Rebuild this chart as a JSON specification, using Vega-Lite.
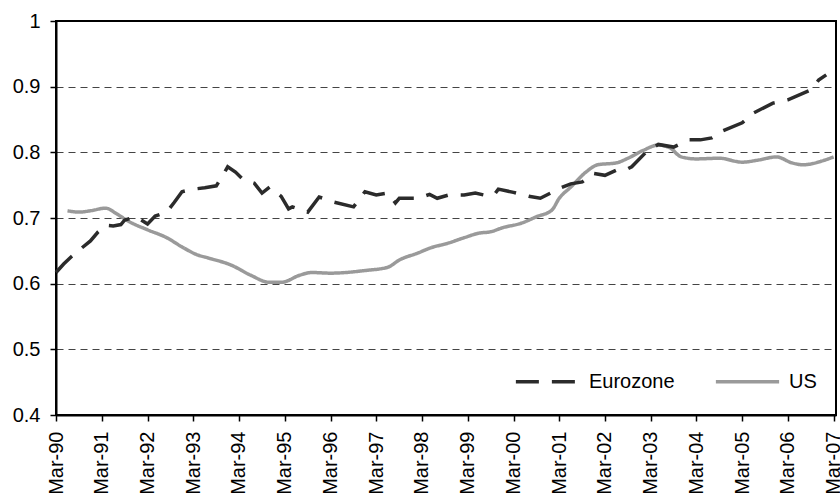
{
  "$schema": "https://vega.github.io/schema/vega-lite/v6.json",
  "width": 780,
  "height": 394,
  "autosize": "none",
  "padding": {"left": 56, "top": 21, "right": 4, "bottom": 86},
  "background": "white",
  "config": {
    "font": "Liberation Sans",
    "view": {"stroke": "black", "strokeWidth": 2},
    "axis": {"labelFont": "Liberation Sans", "labelColor": "black", "labelFontSize": 20, "domainColor": "black", "domainWidth": 2, "tickColor": "black", "tickWidth": 1.5, "tickSize": 6}
  },
  "data": {"values": [
    {"date": "1990/03/01", "series": "Eurozone", "value": 0.617},
    {"date": "1990/05/01", "series": "Eurozone", "value": 0.630},
    {"date": "1990/07/01", "series": "Eurozone", "value": 0.641},
    {"date": "1990/09/01", "series": "Eurozone", "value": 0.651},
    {"date": "1990/12/01", "series": "Eurozone", "value": 0.665},
    {"date": "1991/02/01", "series": "Eurozone", "value": 0.679},
    {"date": "1991/04/01", "series": "Eurozone", "value": 0.689},
    {"date": "1991/06/01", "series": "Eurozone", "value": 0.688},
    {"date": "1991/08/01", "series": "Eurozone", "value": 0.690},
    {"date": "1991/09/01", "series": "Eurozone", "value": 0.697},
    {"date": "1991/12/01", "series": "Eurozone", "value": 0.702},
    {"date": "1992/03/01", "series": "Eurozone", "value": 0.691},
    {"date": "1992/05/01", "series": "Eurozone", "value": 0.703},
    {"date": "1992/08/01", "series": "Eurozone", "value": 0.709},
    {"date": "1992/10/01", "series": "Eurozone", "value": 0.724},
    {"date": "1992/12/01", "series": "Eurozone", "value": 0.740},
    {"date": "1993/03/01", "series": "Eurozone", "value": 0.744},
    {"date": "1993/06/01", "series": "Eurozone", "value": 0.746},
    {"date": "1993/09/01", "series": "Eurozone", "value": 0.749},
    {"date": "1993/11/01", "series": "Eurozone", "value": 0.768},
    {"date": "1993/12/01", "series": "Eurozone", "value": 0.778},
    {"date": "1994/02/01", "series": "Eurozone", "value": 0.770},
    {"date": "1994/04/01", "series": "Eurozone", "value": 0.759},
    {"date": "1994/07/01", "series": "Eurozone", "value": 0.753},
    {"date": "1994/09/01", "series": "Eurozone", "value": 0.738},
    {"date": "1994/11/01", "series": "Eurozone", "value": 0.747},
    {"date": "1995/02/01", "series": "Eurozone", "value": 0.733},
    {"date": "1995/04/01", "series": "Eurozone", "value": 0.714},
    {"date": "1995/05/01", "series": "Eurozone", "value": 0.717},
    {"date": "1995/09/01", "series": "Eurozone", "value": 0.709},
    {"date": "1995/12/01", "series": "Eurozone", "value": 0.732},
    {"date": "1996/04/01", "series": "Eurozone", "value": 0.724},
    {"date": "1996/09/01", "series": "Eurozone", "value": 0.717},
    {"date": "1996/12/01", "series": "Eurozone", "value": 0.740},
    {"date": "1997/03/01", "series": "Eurozone", "value": 0.735},
    {"date": "1997/06/01", "series": "Eurozone", "value": 0.738},
    {"date": "1997/08/01", "series": "Eurozone", "value": 0.723},
    {"date": "1997/09/01", "series": "Eurozone", "value": 0.730},
    {"date": "1998/02/01", "series": "Eurozone", "value": 0.730},
    {"date": "1998/05/01", "series": "Eurozone", "value": 0.736},
    {"date": "1998/07/01", "series": "Eurozone", "value": 0.730},
    {"date": "1998/10/01", "series": "Eurozone", "value": 0.735},
    {"date": "1999/02/01", "series": "Eurozone", "value": 0.735},
    {"date": "1999/05/01", "series": "Eurozone", "value": 0.738},
    {"date": "1999/08/01", "series": "Eurozone", "value": 0.734},
    {"date": "1999/10/01", "series": "Eurozone", "value": 0.736},
    {"date": "1999/11/01", "series": "Eurozone", "value": 0.744},
    {"date": "2000/03/01", "series": "Eurozone", "value": 0.739},
    {"date": "2000/07/01", "series": "Eurozone", "value": 0.733},
    {"date": "2000/10/01", "series": "Eurozone", "value": 0.730},
    {"date": "2001/01/01", "series": "Eurozone", "value": 0.739},
    {"date": "2001/03/01", "series": "Eurozone", "value": 0.745},
    {"date": "2001/06/01", "series": "Eurozone", "value": 0.752},
    {"date": "2001/09/01", "series": "Eurozone", "value": 0.755},
    {"date": "2001/12/01", "series": "Eurozone", "value": 0.768},
    {"date": "2002/03/01", "series": "Eurozone", "value": 0.765},
    {"date": "2002/06/01", "series": "Eurozone", "value": 0.773},
    {"date": "2002/08/01", "series": "Eurozone", "value": 0.772},
    {"date": "2002/10/01", "series": "Eurozone", "value": 0.778},
    {"date": "2003/02/01", "series": "Eurozone", "value": 0.802},
    {"date": "2003/05/01", "series": "Eurozone", "value": 0.812},
    {"date": "2003/09/01", "series": "Eurozone", "value": 0.808},
    {"date": "2004/01/01", "series": "Eurozone", "value": 0.819},
    {"date": "2004/04/01", "series": "Eurozone", "value": 0.819},
    {"date": "2004/07/01", "series": "Eurozone", "value": 0.822},
    {"date": "2004/10/01", "series": "Eurozone", "value": 0.833},
    {"date": "2005/03/01", "series": "Eurozone", "value": 0.845},
    {"date": "2005/06/01", "series": "Eurozone", "value": 0.860},
    {"date": "2005/11/01", "series": "Eurozone", "value": 0.875},
    {"date": "2006/03/01", "series": "Eurozone", "value": 0.880},
    {"date": "2006/09/01", "series": "Eurozone", "value": 0.895},
    {"date": "2006/11/01", "series": "Eurozone", "value": 0.910},
    {"date": "2007/01/01", "series": "Eurozone", "value": 0.918},
    {"date": "1990/06/01", "series": "US", "value": 0.711},
    {"date": "1990/09/01", "series": "US", "value": 0.709},
    {"date": "1990/12/01", "series": "US", "value": 0.711},
    {"date": "1991/04/01", "series": "US", "value": 0.715},
    {"date": "1991/07/01", "series": "US", "value": 0.706},
    {"date": "1991/10/01", "series": "US", "value": 0.695},
    {"date": "1992/03/01", "series": "US", "value": 0.682},
    {"date": "1992/08/01", "series": "US", "value": 0.670},
    {"date": "1992/12/01", "series": "US", "value": 0.656},
    {"date": "1993/04/01", "series": "US", "value": 0.644},
    {"date": "1993/07/01", "series": "US", "value": 0.639},
    {"date": "1994/01/01", "series": "US", "value": 0.628},
    {"date": "1994/06/01", "series": "US", "value": 0.613},
    {"date": "1994/11/01", "series": "US", "value": 0.602},
    {"date": "1995/02/01", "series": "US", "value": 0.602},
    {"date": "1995/07/01", "series": "US", "value": 0.613},
    {"date": "1995/10/01", "series": "US", "value": 0.617},
    {"date": "1996/03/01", "series": "US", "value": 0.616},
    {"date": "1996/12/01", "series": "US", "value": 0.620},
    {"date": "1997/06/01", "series": "US", "value": 0.625},
    {"date": "1997/09/01", "series": "US", "value": 0.636},
    {"date": "1998/02/01", "series": "US", "value": 0.647},
    {"date": "1998/05/01", "series": "US", "value": 0.654},
    {"date": "1998/10/01", "series": "US", "value": 0.662},
    {"date": "1999/02/01", "series": "US", "value": 0.670},
    {"date": "1999/06/01", "series": "US", "value": 0.677},
    {"date": "1999/09/01", "series": "US", "value": 0.679},
    {"date": "1999/12/01", "series": "US", "value": 0.685},
    {"date": "2000/05/01", "series": "US", "value": 0.692},
    {"date": "2000/09/01", "series": "US", "value": 0.702},
    {"date": "2001/01/01", "series": "US", "value": 0.712},
    {"date": "2001/03/01", "series": "US", "value": 0.730},
    {"date": "2001/06/01", "series": "US", "value": 0.747},
    {"date": "2001/10/01", "series": "US", "value": 0.770},
    {"date": "2002/01/01", "series": "US", "value": 0.781},
    {"date": "2002/06/01", "series": "US", "value": 0.784},
    {"date": "2002/09/01", "series": "US", "value": 0.791},
    {"date": "2003/01/01", "series": "US", "value": 0.803},
    {"date": "2003/05/01", "series": "US", "value": 0.811},
    {"date": "2003/08/01", "series": "US", "value": 0.807},
    {"date": "2003/11/01", "series": "US", "value": 0.793},
    {"date": "2004/03/01", "series": "US", "value": 0.790},
    {"date": "2004/09/01", "series": "US", "value": 0.791},
    {"date": "2005/03/01", "series": "US", "value": 0.785},
    {"date": "2005/07/01", "series": "US", "value": 0.788},
    {"date": "2005/12/01", "series": "US", "value": 0.793},
    {"date": "2006/04/01", "series": "US", "value": 0.784},
    {"date": "2006/07/01", "series": "US", "value": 0.781},
    {"date": "2006/12/01", "series": "US", "value": 0.787},
    {"date": "2007/03/01", "series": "US", "value": 0.793}
  ]},
  "encoding": {
    "x": {
      "field": "date", "type": "temporal", "title": null,
      "scale": {"domain": [{"year": 1990, "month": 3, "date": 1}, {"year": 2007, "month": 3, "date": 20}]},
      "axis": {
        "values": [
          {"year": 1990, "month": 3, "date": 1}, {"year": 1991, "month": 3, "date": 1}, {"year": 1992, "month": 3, "date": 1},
          {"year": 1993, "month": 3, "date": 1}, {"year": 1994, "month": 3, "date": 1}, {"year": 1995, "month": 3, "date": 1},
          {"year": 1996, "month": 3, "date": 1}, {"year": 1997, "month": 3, "date": 1}, {"year": 1998, "month": 3, "date": 1},
          {"year": 1999, "month": 3, "date": 1}, {"year": 2000, "month": 3, "date": 1}, {"year": 2001, "month": 3, "date": 1},
          {"year": 2002, "month": 3, "date": 1}, {"year": 2003, "month": 3, "date": 1}, {"year": 2004, "month": 3, "date": 1},
          {"year": 2005, "month": 3, "date": 1}, {"year": 2006, "month": 3, "date": 1}, {"year": 2007, "month": 3, "date": 1}
        ],
        "format": "%b-%y", "labelAngle": -90, "labelAlign": "right", "labelBaseline": "middle",
        "labelPadding": 10, "grid": false, "labelOverlap": false, "labelBound": false, "labelFlush": false
      }
    },
    "y": {
      "field": "value", "type": "quantitative", "title": null,
      "scale": {"domain": [0.4, 1], "nice": false, "zero": false},
      "axis": {
        "values": [0.4, 0.5, 0.6, 0.7, 0.8, 0.9, 1],
        "labelExpr": "datum.value == 1 ? '1' : format(datum.value, '.1f')",
        "labelPadding": 10, "grid": true, "gridColor": "#444", "gridDash": [7, 5], "gridWidth": 1.2,
        "gridOpacity": {"expr": "datum.value == 0.4 || datum.value == 1 ? 0 : 1"}
      }
    },
    "color": {
      "field": "series", "type": "nominal", "title": null,
      "scale": {"domain": ["Eurozone", "US"], "range": ["#2b2b2b", "#9a9a9a"]},
      "legend": {
        "orient": "none", "legendX": 458, "legendY": 327, "direction": "horizontal",
        "symbolType": "stroke", "symbolSize": 4000, "symbolStrokeWidth": 3.5,
        "labelFontSize": 20, "labelFont": "Liberation Sans", "labelColor": "black",
        "labelOffset": 8, "columnPadding": 33
      }
    },
    "strokeDash": {
      "field": "series", "type": "nominal", "title": null,
      "scale": {"domain": ["Eurozone", "US"], "range": [[23, 13], [1, 0]]}
    }
  },
  "layer": [
    {
      "transform": [{"filter": "datum.series == 'US'"}],
      "mark": {"type": "line", "strokeWidth": 3.5, "interpolate": "monotone"}
    },
    {
      "transform": [{"filter": "datum.series == 'Eurozone'"}],
      "mark": {"type": "line", "strokeWidth": 3.5, "interpolate": "linear"}
    }
  ]
}
